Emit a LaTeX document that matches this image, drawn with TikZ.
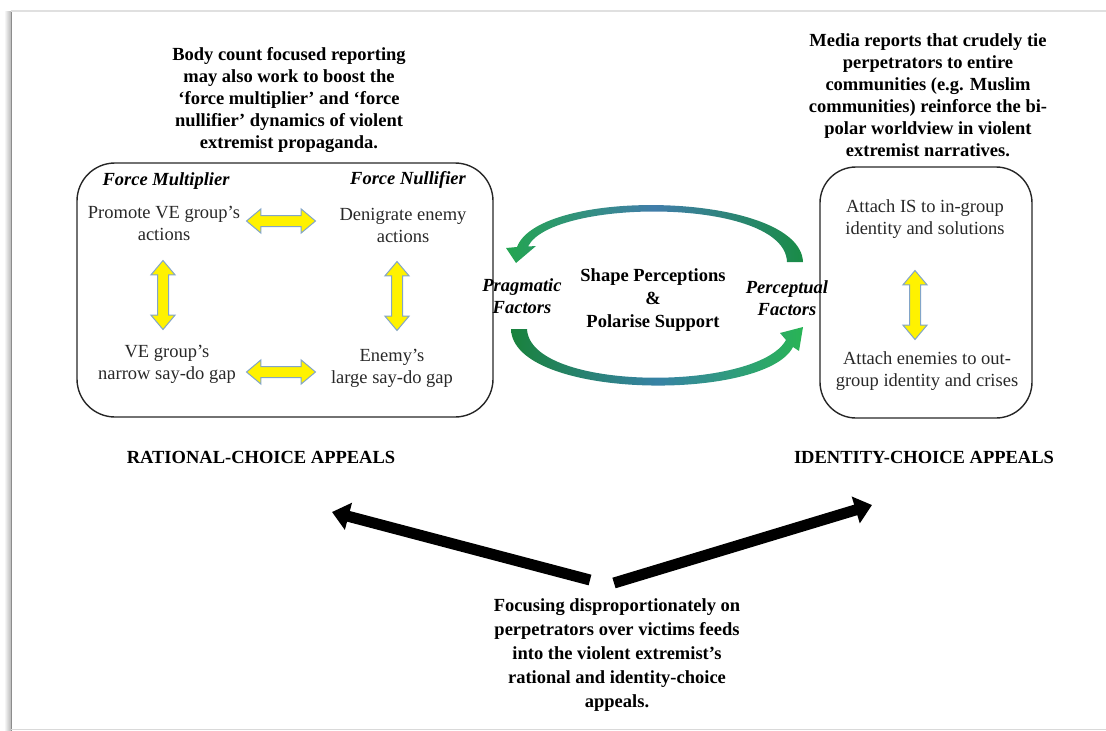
\documentclass[tikz,border=0pt]{standalone}
\usepackage{fontspec}
\setmainfont{Liberation Serif}
\usetikzlibrary{arrows.meta,shapes.arrows}

\definecolor{txtgray}{RGB}{40,40,40}
\definecolor{yedge}{RGB}{130,165,200}
\definecolor{gHeadT}{RGB}{35,165,80}
\definecolor{gMidT}{RGB}{65,125,170}
\definecolor{gTailT}{RGB}{25,140,70}
\definecolor{gTailB}{RGB}{25,130,60}
\definecolor{gMidB}{RGB}{55,130,165}
\definecolor{gHeadB}{RGB}{40,180,85}

\begin{document}
\begin{tikzpicture}[x=1pt,y=-1pt,
  btxt/.style={align=center, inner sep=0pt, font=\fontsize{18.5}{22}\selectfont\bfseries},
  bitxt/.style={align=center, inner sep=0pt, font=\fontsize{18.5}{22}\selectfont\bfseries\itshape},
  rtxt/.style={align=center, inner sep=0pt, text=txtgray, font=\fontsize{18.5}{22}\selectfont},
  box/.style={draw=black!85, line width=1.4pt},
  yarr/.style={double arrow, draw=yedge, line width=1pt, fill=yellow,
    minimum height=69pt, inner xsep=0pt, inner ysep=5pt,
    double arrow head extend=6.5pt, double arrow tip angle=80},
  blk/.style={line width=11pt, black, -{Triangle[width=27pt,length=17pt]}}]

\useasboundingbox (0,0) rectangle (1106,731);

% page edge with its shadow
\shade[left color=white, right color=black!28] (4,11) rectangle (11,731);
\draw[black!45, line width=1.2pt] (11.5,11) -- (11.5,731);
\draw[black!12, line width=2pt] (11,11) -- (1106,11);
\draw[black!15, line width=1.5pt] (11,729.5) -- (1106,729.5);

% framing boxes
\node[box, minimum width=416pt, minimum height=254pt, rounded corners=38pt] (lbox) at (285,290) {};
\node[box, minimum width=212pt, minimum height=251pt, rounded corners=36pt] (rbox) at (926,292.5) {};

% headline notes
\node[btxt] (topL) at (289,100) {Body count focused reporting\\may also work to boost the\\‘force multiplier’ and ‘force\\nullifier’ dynamics of violent\\extremist propaganda.};
\node[btxt] (topR) at (928,95) {Media reports that crudely tie\\perpetrators to entire\\communities (e.g. Muslim\\communities) reinforce the bi-\\polar worldview in violent\\extremist narratives.};

% rational-choice box
\node[bitxt] (fm) at (166,181) {Force Multiplier};
\node[bitxt] (fn) at (408,180) {Force Nullifier};
\node[rtxt] (pa) at (164,223) {Promote VE group’s\\actions};
\node[rtxt] (de) at (403,225) {Denigrate enemy\\actions};
\node[rtxt] (vg) at (167,364) {VE group’s\\narrow say-do gap};
\node[rtxt] (en) at (392,368) {Enemy’s\\large say-do gap};
\node[yarr] (a1) at (281,221) {};
\node[yarr] (a2) at (281,372) {};
\node[yarr, rotate=90] (a3) at (163,295) {};
\node[yarr, rotate=90] (a4) at (397,296) {};

% identity-choice box
\node[rtxt] (ai) at (925,219) {Attach IS to in-group\\identity and solutions};
\node[rtxt] (ae) at (927,371) {Attach enemies to out-\\group identity and crises};
\node[yarr, rotate=90] (a5) at (915,305) {};

% curved cycle arrows
\shade[left color=gHeadT, right color=gTailT, middle color=gMidT]
  (803,262) .. controls (800,192) and (540,186) .. (517,247)
  -- (506,248) -- (516,263) -- (536,246) -- (528,246.5)
  .. controls (552,198) and (785,197) .. (787,262) -- cycle;
\shade[left color=gTailB, right color=gHeadB, middle color=gMidB]
  (511,329) .. controls (513,400) and (765,402) .. (793,347)
  -- (799,351) -- (803,327) -- (780,333) -- (786,340)
  .. controls (757,392) and (530,392) .. (527,329) -- cycle;

% centre labels
\node[btxt, font=\fontsize{18.5}{23}\selectfont\bfseries] (sp) at (653,300) {Shape Perceptions\\\&\\Polarise Support};
\node[bitxt] (pf) at (522,296) {Pragmatic\\Factors};
\node[bitxt] (cf) at (787,298) {Perceptual\\Factors};

% appeal headings
\node[btxt] (rca) at (261,457) {RATIONAL-CHOICE APPEALS};
\node[btxt] (ica) at (924,457) {IDENTITY-CHOICE APPEALS};

% bottom note and its two arrows
\node[btxt, font=\fontsize{18.5}{24}\selectfont\bfseries] (bt) at (617,655) {Focusing disproportionately on\\perpetrators over victims feeds\\into the violent extremist’s\\rational and identity-choice\\appeals.};
\coordinate (tl) at (590,580);
\coordinate (hl) at (332,512);
\coordinate (tr) at (614,583);
\coordinate (hr) at (872,505);
\draw[blk] (tl) -- (hl);
\draw[blk] (tr) -- (hr);
\end{tikzpicture}
\end{document}
